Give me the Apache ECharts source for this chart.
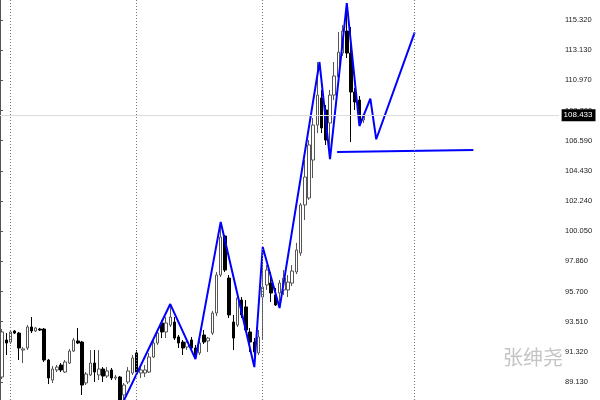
<!DOCTYPE html>
<html><head><meta charset="utf-8">
<script src="https://cdn.jsdelivr.net/npm/echarts@6/dist/echarts.min.js"></script>
<style>html,body{margin:0;padding:0;background:#fff}#c{width:600px;height:400px}</style>
</head><body><div id="c"></div>
<script>
// ---- data ----
const openP  = [89.49,92.17,92.02,92.82,92.67,91.44,91.59,93.11,92.82,92.96,92.96,90.72,89.27,90.00,90.36,89.85,90.50,91.37,92.10,92.02,
                89.06,89.64,90.50,89.64,90.07,89.56,90.00,89.42,89.49,88.19,89.13,89.78,91.23,89.78,89.78,89.85,90.94,91.95,93.40,92.75,
                93.25,93.47,92.39,92.02,91.66,92.17,91.59,91.23,92.53,92.10,92.67,94.12,96.87,99.69,96.65,93.47,93.25,95.06,94.56,92.75,
                92.02,91.23,95.28,96.15,96.29,95.42,95.57,95.79,95.79,96.29,97.09,98.46,101.94,102.44,105.19,107.72,109.68,108.81,107.87,109.89,
                111.20,112.93,114.52,112.93,110.11,109.53,108.09];
const closeP = [92.75,91.95,92.75,92.67,91.59,91.52,93.11,92.82,93.04,92.89,90.72,89.42,90.07,90.21,90.00,90.58,91.37,92.17,91.95,88.91,
                89.71,90.50,89.85,90.07,89.56,89.93,89.42,89.49,87.47,88.91,89.93,90.87,89.85,90.00,90.00,90.94,91.95,92.67,92.75,93.40,
                93.83,92.31,91.95,91.59,92.02,91.59,90.94,91.95,92.02,92.31,94.12,96.87,99.62,97.23,93.98,92.31,95.21,93.98,92.89,92.02,
                91.30,92.39,96.00,97.23,95.57,94.70,96.29,96.65,96.36,97.16,98.68,101.94,103.96,106.28,107.72,109.89,107.51,106.64,109.89,111.27,
                113.00,114.52,112.93,110.11,109.39,107.94,108.433];
const lowP   = [89.35,91.08,91.88,92.60,90.72,90.50,91.44,92.67,92.75,92.82,90.58,88.98,89.06,89.85,89.85,89.78,90.43,91.30,91.88,88.19,
                88.91,89.56,89.13,89.27,89.13,89.42,89.27,89.27,87.18,87.83,88.98,89.64,89.71,89.42,89.49,89.78,90.87,91.81,92.31,92.31,
                93.11,92.17,91.59,91.08,91.44,91.44,90.79,91.08,91.88,91.30,92.53,93.90,96.73,97.09,93.76,91.44,93.11,93.76,92.75,91.30,
                90.21,91.08,92.17,95.79,94.92,94.63,94.48,95.42,95.28,96.08,96.94,98.25,100.85,102.30,103.89,107.14,107.14,106.28,105.26,109.53,
                110.98,112.72,112.57,106.49,108.81,107.65,107.87];
const highP  = [92.96,92.67,92.89,92.89,92.75,91.66,93.25,93.83,93.11,93.04,93.04,90.79,90.29,90.36,90.50,90.72,91.52,92.31,93.04,92.10,
                89.85,91.44,91.44,91.44,90.21,90.21,90.14,89.64,89.56,89.06,90.21,91.08,91.44,90.21,90.36,91.23,92.17,92.89,93.62,93.83,
                94.77,93.83,92.53,92.17,92.31,92.39,91.81,92.31,92.89,92.39,94.27,97.09,100.71,99.76,96.87,93.98,95.35,95.28,95.06,93.04,
                92.31,92.89,98.90,97.59,97.09,95.93,96.51,97.23,96.87,97.59,99.19,102.08,105.19,106.64,108.23,112.28,110.26,109.17,110.26,112.28,
                114.45,114.96,116.55,114.81,110.40,109.82,108.52];
// zigzag (bar index, price), last three points are the projected continuation
const zigX = [28, 40, 46, 52, 60, 62, 66, 75.5, 78, 82, 85, 87.6, 89.0, 98.15];
const zigY = [87.18, 94.77, 90.79, 100.71, 90.21, 98.90, 94.48, 112.28, 105.26, 116.55, 107.65, 109.63, 106.69, 114.43];
const levelX = [79.7, 112.1];
const levelY = [105.77, 105.91];
const separatorBars = [2, 32, 62, 98];
const currentPrice = 108.433;
const yTickLabels = ['89.130','91.320','93.510','95.700','97.860','100.050','102.240','104.430','106.590','108.780','110.970','113.130','115.320'];
const priceMin = 87.828, priceMax = 116.767;
const totalBars = 133;
const categories = Array.from({length: totalBars}, (_, i) => 'bar' + i);

// ---- build ----
const candles = openP.map((o, i) => [o, closeP[i], lowP[i], highP[i]]);
const zig = zigX.map((x, i) => [x, zigY[i]]);
const level = levelX.map((x, i) => [x, levelY[i]]);

const chart = echarts.init(document.getElementById('c'), null, {renderer: 'canvas'});
chart.setOption({
  animation: false,
  backgroundColor: '#ffffff',
  grid: [
    {left: -2.81, right: 40.9, top: 0, bottom: 0},
    {left: 0, right: 39, top: 20, bottom: 18},
    {left: 0, right: 39, top: 0, bottom: 0}
  ],
  xAxis: [
    {type: 'category', gridIndex: 0, data: categories, boundaryGap: true, show: false},
    {type: 'value', gridIndex: 0, min: -0.5, max: totalBars - 0.5, show: false},
    {type: 'value', gridIndex: 1, min: 0, max: 1, show: false},
    {type: 'value', gridIndex: 2, min: 0, max: 1, show: false}
  ],
  yAxis: [
    {type: 'value', gridIndex: 0, position: 'right', min: priceMin, max: priceMax, show: false},
    {type: 'value', gridIndex: 1, position: 'right', min: 0, max: yTickLabels.length - 1, interval: 1,
     axisLine: {show: false},
     axisTick: {show: true, length: 3, lineStyle: {color: '#555'}},
     axisLabel: {margin: 4, fontSize: 7.5, color: '#222', fontFamily: 'Liberation Sans',
       formatter: v => yTickLabels[Math.round(v)]},
     splitLine: {show: false}},
    {type: 'value', gridIndex: 2, position: 'right', min: 0, max: 1,
     axisLine: {show: true, lineStyle: {color: '#555', width: 1}},
     axisTick: {show: false}, axisLabel: {show: false}, splitLine: {show: false}}
  ],
  graphic: [{
    type: 'text', left: 503, top: 347, z: 0,
    style: {text: '张绅尧', fontSize: 20, fontFamily: 'Noto Sans CJK SC', fill: '#c4c4c4'}
  }],
  series: [
    {
      type: 'candlestick', xAxisIndex: 0, yAxisIndex: 0, data: candles,
      barWidth: 3,
      itemStyle: {color: '#ffffff', borderColor: '#555555', color0: '#000000', borderColor0: '#000000', borderWidth: 1},
      markLine: {
        silent: true, symbol: ['none', 'none'],
        lineStyle: {color: '#dcdcdc', width: 1, type: 'solid'},
        label: {show: true, position: 'end', distance: 2.5, formatter: () => currentPrice.toFixed(3),
          backgroundColor: '#000', color: '#fff', fontSize: 8, fontFamily: 'Liberation Sans', padding: [2, 3, 2, 2]},
        data: [{yAxis: currentPrice}]
      }
    },
    {
      type: 'line', xAxisIndex: 1, yAxisIndex: 0, data: zig, symbol: 'none',
      lineStyle: {color: '#0000ff', width: 2}, z: 3,
      markLine: {
        silent: true, symbol: ['none', 'none'],
        lineStyle: {color: '#777', width: 1, type: [1, 2]},
        label: {show: false},
        data: separatorBars.map(b => ({xAxis: b}))
      }
    },
    {
      type: 'line', xAxisIndex: 1, yAxisIndex: 0, data: level, symbol: 'none',
      lineStyle: {color: '#0000ff', width: 2}, z: 3
    }
  ]
});
</script></body></html>
